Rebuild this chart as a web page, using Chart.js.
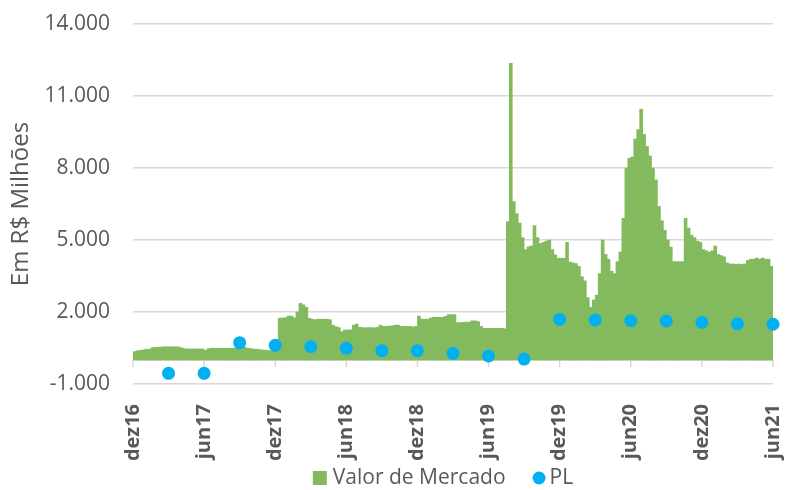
<!DOCTYPE html>
<html lang="pt-BR">
<head>
<meta charset="UTF-8">
<title>Valor de Mercado x PL</title>
<script src="https://cdn.jsdelivr.net/npm/chart.js@4"></script>
<style>
  html, body { margin: 0; padding: 0; background: #fff; }
</style>
</head>
<body>
<canvas id="mvChart" width="787" height="490"></canvas>
<script>
// x positions are in months from dez16 (0) to jun21 (54); bars are weekly (4 per month)
const xLabels = ['dez16', 'jun17', 'dez17', 'jun18', 'dez18', 'jun19', 'dez19', 'jun20', 'dez20', 'jun21'];

// Valor de Mercado, R$ milhões, 4 readings per month
const mv2016 = [350, 380, 400, 420];
const mv2017 = [
  450, 450, 510, 520,   530, 540, 550, 550,   550, 550, 550, 540,
  500, 470, 460, 460,   460, 460, 460, 460,   400, 470, 490, 490,
  490, 490, 490, 490,   490, 490, 500, 550,   550, 540, 500, 480,
  460, 450, 440, 420,   410, 400, 390, 390,   390, 1740, 1750, 1760
];
const mv2018 = [
  1830, 1830, 1760, 2000,   2360, 2300, 2200, 1740,   1700, 1680, 1700, 1700,
  1700, 1700, 1680, 1450,   1390, 1350, 1180, 1250,   1250, 1260, 1450, 1500,
  1360, 1350, 1340, 1350,   1350, 1340, 1360, 1450,   1400, 1400, 1410, 1420,
  1450, 1450, 1400, 1400,   1400, 1400, 1380, 1400,   1830, 1700, 1700, 1700
];
const mv2019 = [
  1750, 1780, 1780, 1780,   1780, 1820, 1890, 1890,   1890, 1560, 1560, 1570,
  1580, 1580, 1630, 1630,   1600, 1400, 1320, 1320,   1320, 1320, 1320, 1320,
  1320, 1300, 5760, 12360,  6600, 6100, 5700, 5100,   4600, 4720, 4750, 5600,
  5100, 4850, 4900, 4950,   5000, 4600, 4380, 4240,   4240, 4240, 4900, 4080
];
const mv2020 = [
  4050, 4020, 3900, 3470,   3300, 2600, 2200, 2500,   2700, 3600, 5000, 4400,
  4200, 3700, 3600, 4100,   4500, 5900, 8000, 8400,   8450, 9200, 9600, 10450,
  9400, 8900, 8500, 8000,   7500, 6400, 5800, 5400,   5000, 4700, 4100, 4100,
  4100, 4100, 5900, 5500,   5200, 5100, 4950, 4900,   4600, 4550, 4500, 4550
];
const mv2021 = [
  4750, 4400, 4350, 4300,   4050, 4000, 4000, 3980,   4000, 3980, 4000, 4150,
  4200, 4200, 4250, 4200,   4250, 4200, 4200, 3900
];

// PL, quarterly (mar17 ... jun21)
const plValues = [-555, -555, 720, 610, 555, 485, 390, 390, 280, 170, 40, 1690, 1670, 1640, 1625, 1570, 1515, 1490];

const marketValues = [].concat(mv2016, mv2017, mv2018, mv2019, mv2020, mv2021);
const barPoints = marketValues.map((v, i) => ({ x: i / 4 + 0.125, y: v }));
const plPoints = plValues.map((v, i) => ({ x: (i + 1) * 3, y: v }));

const GREEN = '#84ba5e';
const BLUE = '#00b0f0';
const TEXT = '#595959';
const GRID = '#d9d9d9';
const FONT = "'Open Sans'";

function fmtThousands(v) {
  const s = Math.abs(v).toString().replace(/\B(?=(\d{3})+(?!\d))/g, '.');
  return (v < 0 ? '-' : '') + s;
}

// horizontal axis line at zero with small tick marks
const zeroAxis = {
  id: 'zeroAxis',
  beforeDatasetsDraw(chart) {
    const { ctx, chartArea, scales } = chart;
    const y0 = scales.y.getPixelForValue(0);
    ctx.save();
    ctx.strokeStyle = GRID;
    ctx.lineWidth = 1.5;
    ctx.beginPath();
    ctx.moveTo(chartArea.left, y0);
    ctx.lineTo(chartArea.right, y0);
    scales.x.ticks.forEach(t => {
      const px = scales.x.getPixelForValue(t.value);
      ctx.moveTo(px, y0);
      ctx.lineTo(px, y0 + 7);
    });
    ctx.stroke();
    ctx.restore();
  }
};

// legend at the bottom: green square + text, blue dot + text
const bottomLegend = {
  id: 'bottomLegend',
  afterDraw(chart) {
    const { ctx, chartArea } = chart;
    ctx.save();
    ctx.font = '21px ' + FONT;
    const t1 = 'Valor de Mercado', t2 = 'PL';
    const w1 = ctx.measureText(t1).width, w2 = ctx.measureText(t2).width;
    const box = 14, dot = 13;
    const total = box + 6 + w1 + 27 + dot + 4 + w2;
    let x = (chartArea.left + chartArea.right) / 2 - 10 - total / 2;
    const cy = 478;
    ctx.fillStyle = GREEN;
    ctx.fillRect(x, cy - box / 2, box, box);
    x += box + 6;
    ctx.fillStyle = TEXT;
    ctx.textBaseline = 'middle';
    ctx.fillText(t1, x, cy);
    x += w1 + 27;
    ctx.fillStyle = BLUE;
    ctx.beginPath();
    ctx.arc(x + dot / 2, cy, dot / 2, 0, Math.PI * 2);
    ctx.fill();
    x += dot + 4;
    ctx.fillStyle = TEXT;
    ctx.fillText(t2, x, cy);
    ctx.restore();
  }
};

new Chart(document.getElementById('mvChart'), {
  type: 'bar',
  data: {
    datasets: [
      {
        type: 'scatter',
        label: 'PL',
        data: plPoints,
        backgroundColor: BLUE,
        borderColor: BLUE,
        pointRadius: 6.5,
        pointHoverRadius: 6.5,
        borderWidth: 0,
        clip: false,
        order: 0
      },
      {
        type: 'bar',
        label: 'Valor de Mercado',
        data: barPoints,
        backgroundColor: GREEN,
        borderWidth: 0,
        barPercentage: 1,
        categoryPercentage: 1,
        order: 1
      }
    ]
  },
  options: {
    responsive: false,
    animation: false,
    layout: { padding: { top: 24, right: 14, bottom: 6, left: 4 } },
    plugins: {
      legend: { display: false },
      tooltip: { enabled: false }
    },
    scales: {
      x: {
        type: 'linear',
        min: 0,
        max: 54,
        offset: false,
        grid: { display: false, offset: false },
        border: { display: false },
        afterFit(s) {
          s.height = 100;
          s.paddingLeft = 0;
          s.paddingRight = 0;
        },
        ticks: {
          stepSize: 6,
          autoSkip: false,
          minRotation: 90,
          maxRotation: 90,
          padding: 12,
          color: TEXT,
          font: { family: FONT, size: 20, weight: 'bold' },
          callback: v => xLabels[v / 6]
        }
      },
      y: {
        min: -1000,
        max: 14000,
        grid: { color: GRID, lineWidth: 1.5, drawTicks: false },
        border: { display: false },
        afterFit(s) {
          s.width = 129;
          s.paddingTop = 0;
          s.paddingBottom = 0;
        },
        ticks: {
          stepSize: 3000,
          padding: 23,
          color: TEXT,
          font: { family: FONT, size: 21 },
          callback: v => fmtThousands(v)
        },
        title: {
          display: true,
          text: 'Em R$ Milhões',
          color: TEXT,
          font: { family: FONT, size: 24 },
          padding: { top: 3, bottom: 6 }
        }
      }
    }
  },
  plugins: [zeroAxis, bottomLegend]
});
</script>
</body>
</html>
